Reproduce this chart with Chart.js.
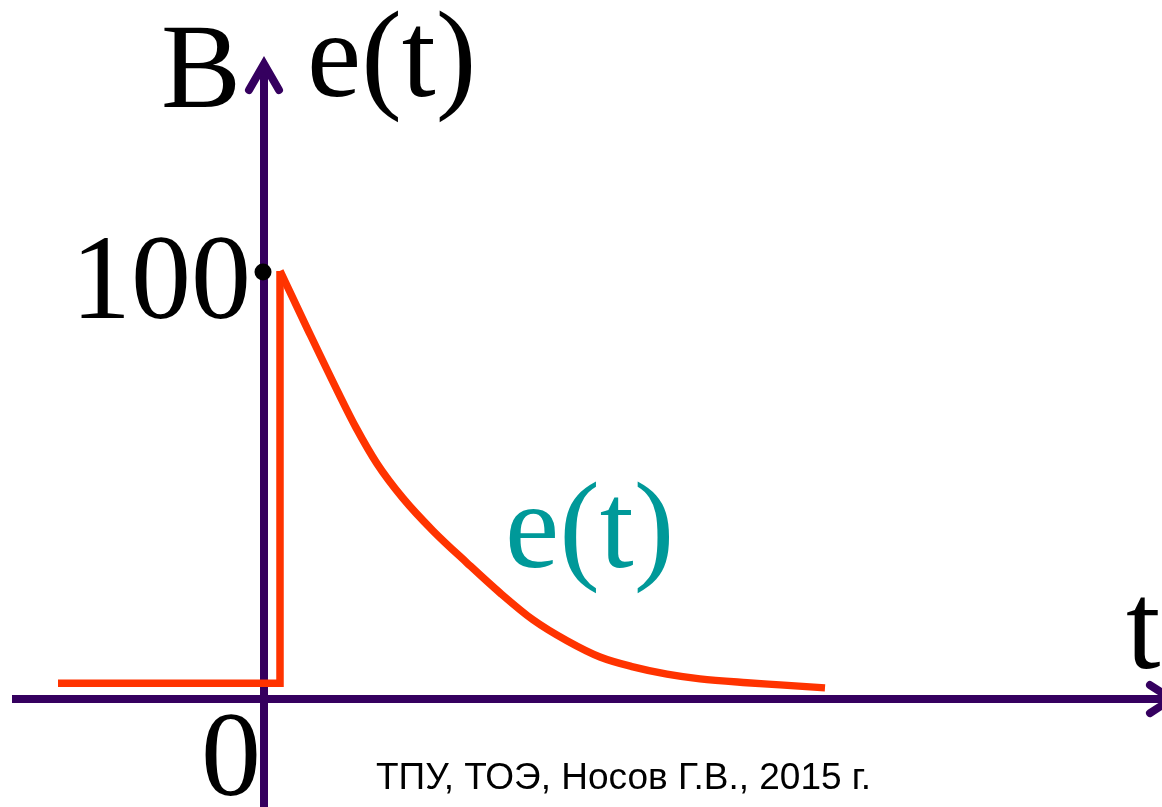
<!DOCTYPE html>
<html>
<head>
<meta charset="utf-8">
<script src="https://cdn.jsdelivr.net/npm/chart.js@4/dist/chart.umd.min.js"></script>
<style>
  html, body { margin: 0; padding: 0; background: #ffffff; }
  #wrap { width: 1162px; height: 807px; position: relative; }
</style>
</head>
<body>
<div id="wrap"><canvas id="c"></canvas></div>
<script>
// ---- data (t in arbitrary time units, e in volts) ----
const stepT = [-2.06, 0.16, 0.16];
const stepE = [3.7, 3.7, 100];
const decayT = [0.16, 0.44, 0.74, 0.92, 1.13, 1.39, 1.69, 2.03, 2.36, 2.69, 3.03, 3.36, 3.69, 4.03, 4.36, 4.83, 5.16, 5.61];
const decayE = [100, 86.2, 71.7, 63.4, 55.0, 46.9, 39.3, 31.8, 24.8, 18.5, 13.6, 9.8, 7.5, 5.8, 4.7, 3.8, 3.3, 2.6];
const yTickValues = [0, 100];
const yTickLabels = ["0", "100"];
const yUnitLabel = "B";
const yTitle = "e(t)";
const xTitle = "t";
const curveLabel = "e(t)";
const footer = "ТПУ, ТОЭ, Носов Г.В., 2015 г.";

const AXIS = "#35005f";
const RED = "#ff3300";
const TEAL = "#009999";
const SERIF = "'Liberation Serif', 'Times New Roman', serif";

const axesPlugin = {
  id: 'axesPlugin',
  beforeDatasetsDraw(chart) {
    const ctx = chart.ctx;
    const xs = chart.scales.x, ys = chart.scales.y;
    const x0 = xs.getPixelForValue(0);
    const y0 = ys.getPixelForValue(0);
    ctx.save();
    ctx.strokeStyle = AXIS;
    ctx.lineWidth = 8;
    ctx.lineCap = 'butt';
    // vertical axis
    ctx.beginPath();
    ctx.moveTo(x0, chart.height + 2);
    ctx.lineTo(x0, 66);
    ctx.stroke();
    // horizontal axis
    ctx.beginPath();
    ctx.moveTo(12, y0);
    ctx.lineTo(1168, y0);
    ctx.stroke();
    // arrow heads
    ctx.lineCap = 'round';
    ctx.lineJoin = 'miter';
    ctx.beginPath();
    ctx.moveTo(x0 - 15, 90);
    ctx.lineTo(x0, 64);
    ctx.lineTo(x0 + 15, 90);
    ctx.stroke();
    ctx.beginPath();
    ctx.moveTo(1150, y0 - 14);
    ctx.lineTo(1172, y0);
    ctx.lineTo(1150, y0 + 14);
    ctx.stroke();
    ctx.restore();
  },
  afterDatasetsDraw(chart) {
    const ctx = chart.ctx;
    const xs = chart.scales.x, ys = chart.scales.y;
    const x0 = xs.getPixelForValue(0);
    const y0 = ys.getPixelForValue(0);
    const y100 = ys.getPixelForValue(yTickValues[1]);
    ctx.save();
    // dot at 100
    ctx.fillStyle = '#000';
    ctx.beginPath();
    ctx.arc(x0 - 1, y100 + 1, 8.5, 0, Math.PI * 2);
    ctx.fill();
    ctx.textBaseline = 'alphabetic';
    ctx.fillStyle = '#000';
    ctx.font = '120px ' + SERIF;
    // tick labels
    ctx.textAlign = 'right';
    ctx.fillText(yTickLabels[1], x0 - 13, y100 + 47);
    ctx.textAlign = 'left';
    ctx.fillText(yTickLabels[0], x0 - 63, y0 + 96);
    // unit and axis titles
    ctx.fillText(yUnitLabel, x0 - 103, 107);
    ctx.font = '122px ' + SERIF;
    ctx.fillText(yTitle, x0 + 43, 96);
    ctx.font = '124px ' + SERIF;
    ctx.fillText(xTitle, 1126, 668);
    // curve label
    ctx.fillStyle = TEAL;
    ctx.font = '122px ' + SERIF;
    ctx.fillText(curveLabel, 505, 567);
    // footer
    ctx.fillStyle = '#000';
    ctx.font = "37px 'Liberation Sans', Arial, sans-serif";
    ctx.fillText(footer, 376, 789);
    ctx.restore();
  }
};

const chart = new Chart(document.getElementById('c'), {
  type: 'line',
  data: {
    datasets: [
      {
        data: stepT.map((t, i) => ({ x: t, y: stepE[i] })),
        borderColor: RED, borderWidth: 7.5, pointRadius: 0, tension: 0,
        borderJoinStyle: 'miter', borderCapStyle: 'butt', fill: false
      },
      {
        data: decayT.map((t, i) => ({ x: t, y: decayE[i] })),
        borderColor: RED, borderWidth: 7.5, pointRadius: 0,
        cubicInterpolationMode: 'monotone',
        borderJoinStyle: 'round', borderCapStyle: 'butt', fill: false
      }
    ]
  },
  options: {
    responsive: true,
    maintainAspectRatio: false,
    animation: false,
    layout: { padding: 0 },
    plugins: { legend: { display: false }, tooltip: { enabled: false } },
    scales: {
      x: { type: 'linear', display: false, min: -2.64, max: 8.98 },
      y: { type: 'linear', display: false, min: -25.23, max: 163.3 }
    }
  },
  plugins: [axesPlugin]
});
</script>
</body>
</html>
